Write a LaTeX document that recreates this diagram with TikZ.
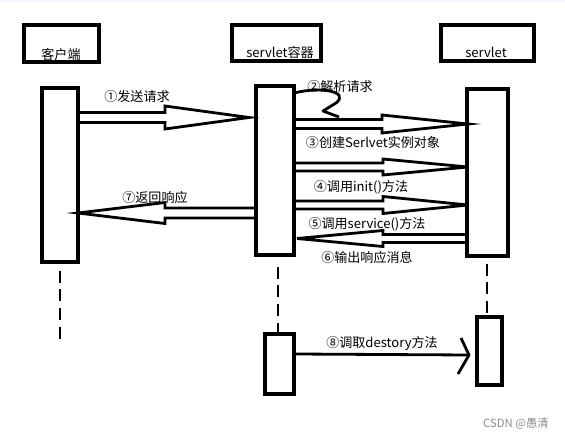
\documentclass[tikz,border=0pt]{standalone}
\usepackage{fontspec}
\setmainfont{Noto Sans CJK SC}
\usetikzlibrary{fit}
\tikzset{
  box/.style={draw=black, line width=2.3pt, inner sep=0pt, fill=white},
  arr/.style={draw=black, line width=2.1pt, line join=miter},
  lbl/.style={font=\fontsize{9.8pt}{11pt}\selectfont, inner sep=0pt},
  life/.style={draw=black, line width=2pt, dash pattern=on 9pt off 5pt},
}
\newcommand\fatarr[7]{% start x, headback x, tip x, y, shaft half, head half, name
  \draw[arr] (#1,{#4-#5}) -- (#2,{#4-#5}) -- (#2,{#4-#6}) -- (#3,#4) coordinate (#7)
    -- (#2,{#4+#6}) -- (#2,{#4+#5}) -- (#1,{#4+#5});}
\begin{document}
\begin{tikzpicture}[x=0.75pt,y=-0.75pt]
\useasboundingbox (0,0) rectangle (565,439);
\fill[black!8!blue!4!white] (0,0) rectangle (565,2);
% header boxes
\node[box, fit={(24,25) (99,62)}] (cH) {};
\node[box, fit={(232,25) (321,61)}] (sH) {};
\node[box, fit={(441,25) (534,61)}] (vH) {};
\node[lbl, anchor=base] (cHt) at (61,59.5) {客户端};
\node[lbl, anchor=base] (sHt) at (280,57.5) {servlet容器};
\node[lbl, anchor=base] (vHt) at (486,57.5) {servlet};
% activation boxes
\node[box, fit={(42,88) (78,262)}] (cA) {};
\node[box, fit={(256,86) (294,255)}] (sA) {};
\node[box, fit={(467,89) (508,256)}] (vA) {};
\node[box, fit={(265,334) (294,394)}] (sB) {};
\node[box, fit={(477,317) (502,385)}] (vB) {};
% lifelines
\coordinate (cL) at (60,339);
\draw[life] (cA.south -| 60,0) ++(0,7) -- (cL);
\draw[life] (sA.south -| 278,0) ++(0,10) -- (278,334);
\draw[life] (vA.south -| 487,0) ++(0,6) -- (vB.north -| 487,0) ++(0,-7);
% fat arrows
\fatarr{78}{165}{249}{117.5}{5}{11.5}{t1}
\fatarr{294}{382}{468}{124}{4.5}{9}{t3}
\fatarr{294}{383}{468}{167}{4}{8}{t4}
\fatarr{294}{383}{468}{205}{4}{8.5}{t5}
\fatarr{468}{383}{297}{238.5}{4}{8}{t6}
\fatarr{256}{165}{78}{213}{5}{10.5}{t7}
% self call
\draw[arr, line join=round] (294,93) .. controls (322,86) and (350,92) .. (336,103) -- (323,111) -- (339,117);
% destroy call
\coordinate (t8) at (469,355);
\draw[arr] (sB.east |- 0,354) -- (t8);
\draw[arr, line join=round] (461,338) -- (t8) -- (458,374);
% labels
\node[lbl] (l1) at (137,97) {①发送请求};
\node[lbl] (l2) at (340,87) {②解析请求};
\node[lbl] (l3) at (373,143) {③创建Serlvet实例对象};
\node[lbl] (l4) at (361,187) {④调用init()方法};
\node[lbl] (l5) at (367,224) {⑤调用service()方法};
\node[lbl] (l6) at (367,258) {⑥输出响应消息};
\node[lbl] (l7) at (155,198) {⑦返回响应};
\node[lbl] (l8) at (382,343) {⑧调取destory方法};
\node[lbl, text=black!45, font=\fontsize{8.5pt}{10pt}\selectfont] (wm) at (516,424) {CSDN @愚清};
\end{tikzpicture}
\end{document}
